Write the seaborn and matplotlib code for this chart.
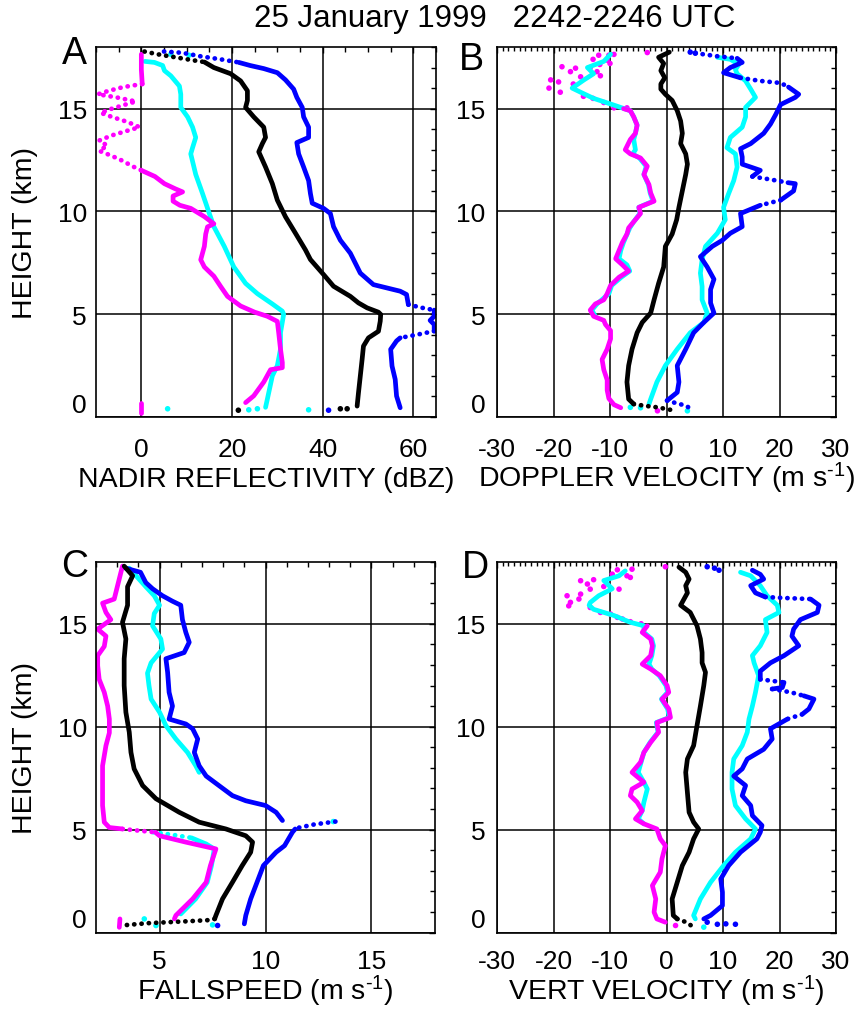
import matplotlib
matplotlib.use("Agg")
import matplotlib.pyplot as plt
import pandas as pd
import seaborn as sns
from matplotlib.ticker import FixedLocator, MultipleLocator

# profiles as (height km, value); "line" = dense samples, "dots" = sparse samples, "pts" = lone samples
A_MAG_TOP = [(17.65, 0.0), (16.9, 0.0), (16.2, 0.2)]
A_MAG_ZIG = [(16.2, 0.2), (16.05, -4.0), (15.85, -7.5), (15.7, -9.6), (15.55, -5.5), (15.35, -1.2),
             (15.2, -3.5), (15.0, -6.5), (14.8, -9.0), (14.6, -6.5), (14.35, -3.0), (14.1, -0.4),
             (13.9, -3.5), (13.7, -6.5), (13.45, -9.3), (13.2, -7.5), (12.95, -9.3), (12.7, -6.5),
             (12.45, -4.0), (12.2, -2.0), (12.0, 0.0)]
A_MAG_LOW = [(12.0, 0.0), (11.7, 3.0), (11.35, 5.1), (11.1, 7.5), (10.95, 9.1), (10.75, 7.0), (10.5, 7.0),
             (10.3, 8.5), (10.15, 10.9), (9.75, 13.9), (9.4, 16.0), (9.25, 14.6), (8.9, 14.2), (8.3, 13.9),
             (7.65, 13.1), (7.3, 13.9), (6.85, 16.0), (6.35, 17.5), (5.87, 19.0), (5.4, 21.9), (5.1, 25.0),
             (4.9, 27.8), (4.65, 30.0), (4.1, 30.3), (3.3, 30.7), (2.65, 31.1), (2.4, 31.1), (2.3, 28.5),
             (1.7, 27.0), (1.03, 24.8), (0.7, 23.0)]
A_MAG_BASE = [(0.7, 0.0), (0.2, 0.0)]
A_CYAN = [(17.3, 0.8), (17.25, 2.9), (17.1, 4.7), (16.85, 5.1), (16.6, 6.5), (16.1, 8.4), (15.7, 8.7),
          (15.06, 8.7), (14.6, 10.2), (14.1, 11.3), (13.6, 12.0), (13.1, 11.3), (12.8, 10.9), (11.8, 12.0),
          (10.87, 13.5), (9.9, 15.0), (9.26, 16.0), (8.3, 18.3), (7.3, 20.4), (6.5, 23.0), (6.0, 25.6),
          (5.5, 28.9), (5.15, 31.1), (5.0, 31.4), (4.1, 30.7), (3.3, 30.7), (2.5, 30.0), (2.0, 28.9),
          (0.87, 27.8), (0.47, 27.4)]
A_CYAN_PTS = [(17.65, 6.5), (17.6, 10.5), (0.4, 5.8), (0.35, 23.7), (0.4, 25.6), (0.35, 36.9)]
A_BLACK_TOP = [(17.78, 0.7), (17.65, 3.5), (17.5, 7.5), (17.35, 11.5), (17.27, 13.9)]
A_BLACK = [(17.27, 13.9), (17.0, 16.0), (16.7, 19.7), (16.35, 21.9), (15.87, 23.4), (15.4, 23.4),
           (15.06, 23.0), (14.6, 24.8), (14.1, 27.0), (13.6, 27.4), (13.3, 26.7), (12.9, 25.9),
           (12.16, 27.4), (11.35, 28.9), (10.55, 30.0), (9.74, 31.8), (8.94, 34.0), (8.13, 36.2),
           (7.66, 37.3), (6.93, 40.2), (6.36, 42.4), (5.87, 46.1), (5.55, 47.9), (5.31, 49.8), (5.1, 52.3),
           (4.99, 52.8), (4.66, 52.7), (4.17, 52.3), (3.85, 50.1), (3.45, 49.0), (2.8, 48.7), (1.99, 48.3),
           (1.18, 47.9), (0.53, 47.6)]
A_BLACK_PTS = [(0.33, 21.4), (0.4, 43.9), (0.4, 45.4)]
A_BLUE_TOP = [(17.78, 5.0), (17.72, 9.0), (17.55, 13.0), (17.4, 17.5), (17.25, 21.5)]
A_BLUE = [(17.25, 21.5), (17.1, 24.0), (16.95, 27.0), (16.75, 30.0), (16.4, 31.8), (15.95, 33.6),
          (15.55, 34.3), (15.06, 35.5), (14.6, 35.8), (14.1, 36.9), (13.6, 36.9), (13.35, 34.3),
          (12.8, 34.7), (12.16, 35.8), (11.5, 36.9), (10.87, 37.3), (10.4, 37.7), (10.15, 40.2), (9.9, 41.7),
          (9.26, 42.4), (8.6, 43.9), (7.97, 46.1), (7.0, 48.3), (6.44, 51.2), (6.12, 57.1), (5.96, 58.5),
          (5.47, 58.9)]
A_BLUE_JUMP = [(5.47, 58.9), (5.31, 62.0), (5.2, 64.6)]
A_BLUE_EDGE = [(5.2, 64.6), (4.9, 64.6), (4.7, 63.7), (4.5, 64.6), (4.18, 64.6)]
A_BLUE_BACK = [(4.18, 64.6), (4.0, 60.7), (3.85, 57.1)]
A_BLUE_LOW = [(3.85, 57.1), (3.7, 56.3), (3.29, 55.0), (2.48, 55.3), (1.83, 56.0), (1.02, 56.3), (0.45, 57.1)]
A_BLUE_PTS = [(0.33, 41.3)]

B_BLACK = [(17.75, 0.5), (17.5, -1.4), (17.2, -0.5), (16.85, -1.0), (16.5, -0.3), (16.2, -1.0), (15.95, -1.0),
           (15.7, -0.2), (15.4, 1.0), (14.9, 1.9), (14.4, 2.5), (13.8, 2.8), (13.3, 2.5), (12.8, 3.4),
           (12.3, 3.7), (11.8, 3.4), (11.0, 2.8), (10.2, 2.2), (9.6, 1.8), (8.9, 1.0), (8.3, -0.2), (7.3, -0.5),
           (6.5, -1.4), (5.7, -2.2), (5.06, -2.8), (4.6, -4.3), (4.1, -5.2), (3.3, -6.1), (2.5, -6.7),
           (1.7, -7.0), (0.87, -6.7), (0.63, -5.8)]
B_BLACK_BASE = [(0.63, -5.8), (0.55, -4.0), (0.47, -1.6), (0.35, 0.7)]
B_MAG_PTS = [(17.73, -3.4), (17.6, -12.0), (17.6, -10.2), (17.64, -9.3), (17.36, -10.5), (17.2, -10.0),
             (17.15, -11.8), (17.4, -13.0), (17.04, -18.5), (16.8, -17.0), (16.97, -16.1), (16.55, -15.2),
             (16.6, -11.7), (16.8, -12.3), (17.0, -13.5), (16.4, -20.5), (16.0, -20.8), (15.8, -18.8),
             (16.3, -19.1), (16.2, -16.5), (15.6, -14.7), (15.5, -13.0), (15.3, -11.1), (15.04, -9.3),
             (15.04, -7.0), (0.3, -1.6)]
B_MAG = [(15.0, -7.6), (14.9, -6.4), (14.6, -5.8), (14.2, -5.2), (13.8, -5.5), (13.5, -6.4), (13.0, -7.3),
         (12.8, -6.4), (12.6, -4.6), (12.2, -3.4), (11.8, -4.0), (11.3, -3.1), (10.9, -2.8), (10.5, -2.2),
         (10.2, -4.9), (9.9, -4.6), (9.5, -5.8), (9.2, -6.7), (8.9, -7.0), (8.5, -7.8), (8.1, -8.4),
         (7.7, -9.0), (7.4, -7.8), (7.1, -6.7), (6.8, -8.4), (6.4, -9.9), (6.0, -10.5), (5.7, -11.1),
         (5.5, -12.6), (5.2, -13.5), (4.9, -12.9), (4.7, -11.1), (4.5, -10.8), (4.2, -9.9), (3.8, -9.9),
         (3.3, -10.5), (2.8, -11.4), (2.3, -11.1), (1.8, -10.5), (1.3, -10.5), (0.9, -10.2), (0.6, -9.3),
         (0.45, -8.1)]
B_CYAN_LO = [(17.65, -9.9), (17.3, -11.1), (17.0, -14.0), (16.7, -12.9), (16.4, -14.6), (16.0, -16.7),
             (15.8, -15.2), (15.5, -12.9), (15.2, -9.6), (14.9, -6.4), (14.6, -5.8), (14.2, -5.2),
             (13.8, -5.5), (13.5, -5.8), (13.0, -5.5), (12.8, -6.0), (12.6, -4.8), (12.2, -3.6), (11.8, -4.0),
             (11.3, -3.2), (10.9, -2.9), (10.5, -2.4), (10.2, -4.9), (9.9, -4.7), (9.5, -5.8), (9.2, -6.5),
             (8.5, -7.6), (8.1, -8.1), (7.7, -8.4), (7.4, -7.0), (7.1, -6.5), (6.8, -8.0), (6.4, -9.7),
             (6.0, -10.2), (5.5, -12.3), (5.2, -13.2), (4.9, -12.6)]
B_CYAN_HI = [(17.5, 9.0), (17.4, 11.3), (17.15, 12.8), (16.9, 12.2), (16.7, 12.5), (16.35, 14.0), (15.95, 14.9),
             (15.55, 15.75), (15.06, 14.0), (14.6, 14.0), (14.1, 13.4), (13.6, 11.3), (13.1, 10.7), (12.8, 12.2),
             (12.16, 12.5), (11.5, 11.9), (10.87, 11.0), (10.2, 10.1), (9.6, 10.4), (8.94, 9.0), (8.3, 6.9),
             (7.65, 6.3), (7.0, 6.0), (6.35, 6.3), (5.7, 6.3), (5.06, 7.2), (4.6, 6.6), (4.1, 4.2), (3.3, 1.9),
             (2.5, -0.2), (1.7, -1.7), (0.87, -2.8), (0.63, -3.1)]
B_CYAN_PTS = [(0.47, -6.4), (0.45, -4.6), (0.3, 3.7)]
B_BLUE_PTS = [(17.75, 4.2), (17.7, 5.1)]
B_BLUE_TOP = [(17.7, 5.1), (17.55, 9.0), (17.45, 12.5)]
B_BLUE_1 = [(17.45, 12.5), (17.25, 13.4), (17.0, 11.3), (16.75, 10.1), (16.5, 13.1)]
B_BLUE_GAP1 = [(16.5, 13.1), (16.35, 16.6), (16.25, 20.2), (16.05, 21.6)]
B_BLUE_2 = [(16.05, 21.6), (15.7, 23.4), (15.55, 22.8), (15.2, 20.2), (14.7, 19.3), (14.25, 18.4), (13.8, 17.2),
            (13.3, 14.9), (13.05, 13.1), (12.65, 13.4), (12.3, 13.4), (12.16, 14.9), (12.0, 16.6), (11.7, 15.2)]
B_BLUE_GAP2 = [(11.7, 15.2), (11.55, 18.5), (11.4, 21.5)]
B_BLUE_3 = [(11.4, 21.5), (11.35, 22.8), (11.0, 22.5), (10.55, 20.2)]
B_BLUE_GAP3 = [(10.55, 20.2), (10.3, 16.6)]
B_BLUE_4 = [(10.3, 16.6), (9.9, 13.1), (9.26, 13.4), (8.94, 11.3), (8.6, 9.9), (8.3, 8.1), (7.8, 6.0),
            (7.3, 7.2), (6.7, 8.4), (6.2, 7.8), (5.55, 7.8), (5.06, 8.4), (4.6, 6.6), (4.1, 4.8), (3.3, 3.4),
            (2.5, 1.9), (1.7, 2.2), (1.2, 1.9), (0.8, 0.1)]
B_BLUE_BASE = [(0.8, 0.1), (0.65, 2.0), (0.55, 3.5), (0.4, 4.2)]

C_MAG = [(17.8, 3.25), (16.2, 2.86), (16.0, 2.31), (15.55, 2.47), (15.2, 2.7), (14.74, 2.08), (14.4, 2.47),
         (13.9, 2.39), (13.45, 2.08), (12.96, 2.08), (12.3, 2.15), (11.67, 2.39), (11.0, 2.55), (10.37, 2.63),
         (9.7, 2.63), (9.08, 2.47), (8.1, 2.31), (7.14, 2.31), (6.17, 2.31), (5.36, 2.39), (5.1, 2.63),
         (5.03, 3.25)]
C_MAG_GAP = [(5.03, 3.25), (4.95, 4.0), (4.87, 4.8)]
C_MAG_LOW = [(4.87, 4.8), (4.7, 5.0), (4.39, 6.24), (4.06, 7.66), (3.25, 7.4), (2.44, 7.2), (1.63, 6.56),
             (0.83, 5.77), (0.66, 5.7)]
C_MAG_BASE = [(0.66, 3.13), (0.25, 3.1)]
C_BLACK = [(17.8, 3.33), (17.33, 3.73), (16.8, 3.49), (15.9, 3.49), (15.07, 3.25), (14.26, 3.41), (13.3, 3.33),
           (12.0, 3.33), (10.7, 3.41), (9.73, 3.57), (8.75, 3.65), (7.95, 3.8), (7.14, 4.2), (6.5, 4.83),
           (5.84, 5.93), (5.36, 6.87), (5.03, 8.13), (4.7, 9.07), (4.39, 9.39), (3.9, 9.3), (3.25, 8.9),
           (2.44, 8.44), (1.63, 7.97), (0.83, 7.66), (0.66, 7.6)]
C_BLACK_BASE = [(0.66, 7.6), (0.6, 7.3), (0.55, 6.4), (0.5, 5.4), (0.45, 4.4), (0.35, 3.3)]
C_CYAN_HI = [(17.7, 3.57), (16.8, 4.35), (16.36, 4.75), (15.9, 5.0), (15.5, 4.75), (14.9, 4.67), (14.26, 5.06),
             (13.77, 5.14), (13.1, 4.6), (12.6, 4.43), (12.0, 4.5), (11.34, 4.6), (10.7, 5.0), (10.05, 5.3),
             (9.4, 5.77), (8.75, 6.32), (8.1, 6.71), (7.78, 6.87)]
C_CYAN_GAP = [(4.87, 4.7), (4.75, 5.6), (4.6, 6.5)]
C_CYAN_LO = [(4.6, 6.5), (4.3, 7.2), (4.06, 7.58), (3.25, 7.45), (2.44, 7.25), (1.63, 6.7), (0.9, 6.0)]
C_CYAN_PTS = [(0.66, 4.28), (0.34, 4.83), (0.37, 7.5), (5.39, 13.2)]
C_BLUE = [(17.7, 3.4), (17.5, 4.1), (17.0, 4.35), (16.7, 4.67), (16.36, 5.14), (16.1, 5.6), (15.9, 6.0),
          (15.2, 6.08), (14.58, 6.24), (14.1, 6.4), (13.6, 6.16), (13.3, 5.3), (12.64, 5.38), (11.67, 5.45),
          (11.0, 5.61), (10.37, 5.45), (10.13, 6.24), (9.9, 6.56), (9.4, 6.8), (8.75, 6.64), (8.1, 6.87),
          (7.6, 7.2), (7.14, 7.8), (6.65, 8.44), (6.4, 9.07), (6.17, 10.0), (5.84, 10.5), (5.44, 10.8)]
C_BLUE_SPIKE = [(5.39, 13.3), (5.25, 12.3), (5.1, 11.6), (5.03, 11.4)]
C_BLUE_LOW = [(5.03, 11.4), (4.87, 11.27), (4.22, 10.9), (3.9, 10.5), (3.25, 9.9), (2.44, 9.6), (1.63, 9.3),
              (0.83, 9.07), (0.42, 9.0)]
C_BLUE_PTS = [(0.34, 7.74)]

D_BLACK = [(17.75, 2.2), (17.5, 3.4), (17.17, 4.0), (16.85, 3.4), (16.5, 3.7), (16.2, 3.1), (15.9, 2.5),
           (15.55, 4.2), (14.9, 5.4), (14.26, 6.0), (13.6, 6.3), (13.1, 6.3), (12.64, 6.9), (12.0, 6.6),
           (11.0, 6.0), (10.05, 5.4), (9.08, 4.8), (8.43, 3.7), (7.78, 3.4), (6.8, 3.7), (5.84, 4.0),
           (5.36, 4.8), (5.03, 5.7), (4.55, 4.8), (3.9, 4.0), (3.25, 2.8), (2.44, 1.9), (1.63, 1.0),
           (0.83, 1.2), (0.66, 1.9)]
D_BLACK_BASE = [(0.66, 1.9), (0.5, 3.5), (0.35, 4.3)]
D_MAG_PTS = [(17.77, -0.2), (17.62, -8.7), (17.65, -6.1), (17.33, -7.0), (17.25, -6.4), (17.41, -9.6),
             (16.68, -8.4), (17.09, -15.2), (17.14, -12.9), (16.93, -14.0), (16.68, -13.5), (16.81, -11.1),
             (16.44, -15.2), (16.36, -17.6), (16.04, -17.0), (16.2, -15.5), (15.87, -17.3), (15.79, -13.5),
             (15.55, -11.7), (15.47, -9.9), (15.31, -8.7), (15.23, -7.8), (15.1, -6.4), (15.0, -4.5),
             (0.34, 1.6)]
D_MAG = [(14.9, -3.4), (14.58, -4.3), (14.26, -2.8), (13.93, -2.5), (13.45, -2.8), (13.04, -4.3), (12.8, -2.8),
         (12.48, -1.1), (12.0, 0.1), (11.67, 0.4), (11.34, -0.8), (10.86, 0.4), (10.45, 0.7), (10.2, -1.7),
         (9.73, -1.4), (9.24, -2.8), (8.75, -4.0), (8.27, -4.6), (7.78, -6.1), (7.3, -4.0), (6.97, -6.1),
         (6.65, -6.4), (6.33, -5.2), (5.92, -4.3), (5.52, -5.5), (5.28, -4.0), (5.03, -1.7), (4.55, -1.1),
         (4.22, -0.2), (3.58, -0.8), (2.93, -1.1), (2.28, -2.5), (1.63, -1.9), (0.99, -2.2), (0.66, -1.7),
         (0.5, -0.2)]
D_CYAN_LO = [(17.57, -7.3), (17.33, -8.4), (17.1, -11.1), (16.7, -9.6), (16.36, -12.0), (16.03, -13.5),
             (15.9, -13.7), (15.7, -12.9), (15.4, -9.3), (15.07, -6.4), (14.9, -4.0), (14.58, -4.0),
             (14.26, -2.6), (13.93, -2.3), (13.45, -2.6), (13.04, -3.1), (12.8, -2.6), (12.48, -1.3),
             (12.0, -0.1), (11.67, 0.2), (11.34, -0.9), (10.86, 0.2), (10.45, 0.5), (10.2, -1.8),
             (9.73, -1.5), (9.24, -2.9), (8.75, -4.0), (8.27, -4.5), (7.78, -5.0), (7.3, -4.0), (6.97, -3.4),
             (6.33, -4.0), (5.92, -4.3), (5.52, -5.0), (5.28, -4.0)]
D_CYAN_HI = [(17.5, 13.1), (17.33, 14.9), (16.85, 16.6), (16.36, 17.8), (15.9, 19.6), (15.55, 19.9), (15.2, 17.5),
             (14.58, 17.8), (13.93, 16.6), (13.45, 15.2), (13.1, 15.5), (12.48, 16.3), (11.67, 15.75),
             (11.0, 15.2), (10.37, 14.6), (9.73, 14.3), (9.08, 13.4), (8.43, 11.9), (7.78, 11.6), (6.97, 11.6),
             (6.17, 12.2), (5.52, 14.0), (5.03, 15.75), (4.55, 14.9), (3.9, 12.2), (3.25, 10.1), (2.44, 7.8),
             (1.63, 6.0), (0.83, 4.8), (0.66, 5.1)]
D_CYAN_PTS = [(0.26, 6.6)]
D_BLUE_PTS = [(17.77, 7.2), (17.7, 8.5), (17.6, 9.3), (0.5, 7.2), (0.4, 9.0), (0.42, 10.5), (0.4, 12.2)]
D_BLUE_1 = [(17.6, 15.2), (17.4, 16.6), (17.17, 17.2), (16.85, 14.9), (16.5, 15.75), (16.3, 17.5)]
D_BLUE_GAP1 = [(16.3, 17.5), (16.25, 21.0), (16.2, 25.5)]
D_BLUE_2 = [(16.2, 25.5), (15.9, 27.0), (15.55, 26.7), (15.2, 23.7), (14.74, 22.5), (14.4, 22.2), (13.93, 23.4),
            (13.45, 20.8), (13.1, 18.4), (12.7, 16.6), (12.3, 16.6)]
D_BLUE_GAP2 = [(12.3, 16.6), (12.15, 20.8)]
D_BLUE_3 = [(12.15, 20.8), (11.9, 20.5), (11.83, 18.7)]
D_BLUE_GAP3 = [(11.83, 18.7), (11.67, 22.0), (11.5, 24.3)]
D_BLUE_4 = [(11.5, 24.3), (11.34, 26.1), (10.86, 25.2), (10.6, 24.0)]
D_BLUE_GAP4 = [(10.6, 24.0), (10.37, 21.4)]
D_BLUE_5 = [(10.37, 21.4), (9.9, 18.4), (9.4, 18.7), (8.9, 17.2), (8.43, 14.3), (7.95, 13.4), (7.6, 11.9),
            (7.14, 14.0), (6.65, 13.4), (6.17, 14.9), (5.68, 15.2), (5.2, 16.9), (4.87, 16.6), (4.55, 16.0),
            (3.9, 13.1), (3.25, 11.0), (2.6, 9.6), (1.96, 9.9), (1.31, 9.9), (0.83, 7.8), (0.66, 6.6)]

MAGENTA, CYAN, BLUE, BLACK = "#ff00ff", "#00ffff", "#0000ff", "#000000"

LAYERS = {
    "A": [(A_CYAN, CYAN, "line"), (A_CYAN_PTS, CYAN, "pts"),
          (A_BLUE_TOP, BLUE, "dots"), (A_BLUE, BLUE, "line"), (A_BLUE_JUMP, BLUE, "dots"),
          (A_BLUE_EDGE, BLUE, "line"), (A_BLUE_BACK, BLUE, "dots"), (A_BLUE_LOW, BLUE, "line"),
          (A_BLUE_PTS, BLUE, "pts"),
          (A_MAG_TOP, MAGENTA, "line"), (A_MAG_ZIG, MAGENTA, "dots"), (A_MAG_LOW, MAGENTA, "line"),
          (A_MAG_BASE, MAGENTA, "line"),
          (A_BLACK_TOP, BLACK, "dots"), (A_BLACK, BLACK, "line"), (A_BLACK_PTS, BLACK, "pts")],
    "B": [(B_CYAN_LO, CYAN, "line"), (B_CYAN_HI, CYAN, "line"), (B_CYAN_PTS, CYAN, "pts"),
          (B_BLUE_PTS, BLUE, "pts"), (B_BLUE_TOP, BLUE, "dots"), (B_BLUE_1, BLUE, "line"),
          (B_BLUE_GAP1, BLUE, "dots"), (B_BLUE_2, BLUE, "line"), (B_BLUE_GAP2, BLUE, "dots"),
          (B_BLUE_3, BLUE, "line"), (B_BLUE_GAP3, BLUE, "dots"), (B_BLUE_4, BLUE, "line"),
          (B_BLUE_BASE, BLUE, "dots"),
          (B_MAG_PTS, MAGENTA, "pts"), (B_MAG, MAGENTA, "line"),
          (B_BLACK, BLACK, "line"), (B_BLACK_BASE, BLACK, "dots")],
    "C": [(C_CYAN_HI, CYAN, "line"), (C_CYAN_GAP, CYAN, "dots"), (C_CYAN_LO, CYAN, "line"),
          (C_CYAN_PTS, CYAN, "pts"),
          (C_BLUE, BLUE, "line"), (C_BLUE_SPIKE, BLUE, "dots"), (C_BLUE_LOW, BLUE, "line"),
          (C_BLUE_PTS, BLUE, "pts"),
          (C_MAG, MAGENTA, "line"), (C_MAG_GAP, MAGENTA, "dots"), (C_MAG_LOW, MAGENTA, "line"),
          (C_MAG_BASE, MAGENTA, "line"),
          (C_BLACK, BLACK, "line"), (C_BLACK_BASE, BLACK, "dots")],
    "D": [(D_CYAN_LO, CYAN, "line"), (D_CYAN_HI, CYAN, "line"), (D_CYAN_PTS, CYAN, "pts"),
          (D_BLUE_PTS, BLUE, "pts"), (D_BLUE_1, BLUE, "line"), (D_BLUE_GAP1, BLUE, "dots"),
          (D_BLUE_2, BLUE, "line"), (D_BLUE_GAP2, BLUE, "dots"), (D_BLUE_3, BLUE, "line"),
          (D_BLUE_GAP3, BLUE, "dots"), (D_BLUE_4, BLUE, "line"), (D_BLUE_GAP4, BLUE, "dots"),
          (D_BLUE_5, BLUE, "line"),
          (D_MAG_PTS, MAGENTA, "pts"), (D_MAG, MAGENTA, "line"),
          (D_BLACK, BLACK, "line"), (D_BLACK_BASE, BLACK, "dots")],
}

SUP = "$^{\u2010 1}$"
XLABELS = {
    "A": "NADIR REFLECTIVITY (dBZ)",
    "B": "DOPPLER VELOCITY (m s" + SUP + ")",
    "C": "FALLSPEED (m s" + SUP + ")",
    "D": "VERT VELOCITY (m s" + SUP + ")",
}
XLIMS = {"A": (-10, 65), "B": (-30, 30), "C": (2, 18), "D": (-30, 30)}
XMAJOR = {"A": [0, 20, 40, 60], "B": list(range(-30, 31, 10)), "C": [5, 10, 15], "D": list(range(-30, 31, 10))}
XMINOR = {"A": 5, "B": 1, "C": 1, "D": 1}
TITLE = "25 January 1999   2242-2246 UTC"

W, H = 857, 1012
LW = 3.4


def setup_style():
    sns.set_style("white")
    plt.rcParams["font.family"] = ["Liberation Sans", "DejaVu Sans"]
    plt.rcParams["mathtext.fontset"] = "custom"
    plt.rcParams["mathtext.rm"] = "Liberation Sans"
    plt.rcParams["mathtext.it"] = "Liberation Sans"
    plt.rcParams["axes.unicode_minus"] = False
    for key in ["text.color", "axes.labelcolor", "xtick.color", "ytick.color", "axes.edgecolor"]:
        plt.rcParams[key] = "black"


def draw(ax, pts, color, kind):
    df = pd.DataFrame(pts, columns=["height", "value"])
    if kind == "pts":
        sns.scatterplot(data=df, x="value", y="height", color=color, s=16, edgecolor="none", ax=ax,
                        legend=False)
    elif kind == "dots":
        sns.lineplot(data=df, x="value", y="height", sort=False, estimator=None, color=color, lw=LW,
                     linestyle=(0, (0.05, 1.5)), dash_capstyle="round", ax=ax, legend=False)
    else:
        sns.lineplot(data=df, x="value", y="height", sort=False, estimator=None, color=color, lw=LW,
                     solid_capstyle="round", solid_joinstyle="round", ax=ax, legend=False)


def style_axes(ax, key, top_row):
    ax.set_xlim(*XLIMS[key])
    ax.set_ylim(0, 18)
    ax.xaxis.set_major_locator(FixedLocator(XMAJOR[key]))
    ax.xaxis.set_minor_locator(MultipleLocator(XMINOR[key]))
    ax.yaxis.set_major_locator(FixedLocator([0, 5, 10, 15]))
    ax.yaxis.set_minor_locator(MultipleLocator(1))
    ax.grid(True, which="major", color="black", lw=1.1)
    ax.set_axisbelow(True)
    for s in ax.spines.values():
        s.set_color("black")
        s.set_linewidth(1.2)
    xminlen = 2.6 if key in ("B", "D") else 3.6
    ax.tick_params(which="both", direction="in", top=True, right=True, color="black", width=1.0,
                   labelsize=19, labelcolor="black")
    ax.tick_params(axis="x", which="minor", length=xminlen)
    ax.tick_params(axis="y", which="minor", length=3.6)
    ax.tick_params(which="major", length=4)
    ax.tick_params(axis="x", which="major", pad=14.6 if top_row else 11.8)
    ax.tick_params(axis="y", which="major", pad=6.5 if key in ("A", "C") else 8.5)
    ax.yaxis.get_major_ticks()[0].label1.set_verticalalignment("bottom")
    ax.set_xlabel(XLABELS[key], fontsize=20.5, va="baseline")
    base = 487 if top_row else 1000
    bottom = 418 if top_row else 933.5
    ax.xaxis.set_label_coords(0.5, -(base - bottom) / 370)
    if key in ("A", "C"):
        ax.set_ylabel("HEIGHT (km)", fontsize=20.5, va="center", rotation_mode="default")
        ax.yaxis.set_label_coords((25 - 96) / 340, 0.5)
    else:
        ax.set_ylabel("")


def main():
    setup_style()
    fig = plt.figure(figsize=(W / 100, H / 100), dpi=100)
    boxes = {
        "A": (96, 48, 436, 418),
        "B": (497, 48, 836, 418),
        "C": (96, 563, 435, 933.5),
        "D": (497, 563, 836, 933.5),
    }
    letters = {"A": (74, 54), "B": (471, 60), "C": (75, 567), "D": (475, 568)}
    for key, (x0, y0, x1, y1) in boxes.items():
        ax = fig.add_axes([x0 / W, 1 - y1 / H, (x1 - x0) / W, (y1 - y0) / H])
        for pts, color, kind in LAYERS[key]:
            draw(ax, pts, color, kind)
        style_axes(ax, key, key in ("A", "B"))
        lx, ly = letters[key]
        fig.text(lx / W, 1 - ly / H, key, fontsize=27, ha="center", va="center")

    fig.text(495 / W, 1 - 19 / H, TITLE, fontsize=22.5, ha="center", va="center")
    fig.savefig("out.png", dpi=100)


if __name__ == "__main__":
    main()
